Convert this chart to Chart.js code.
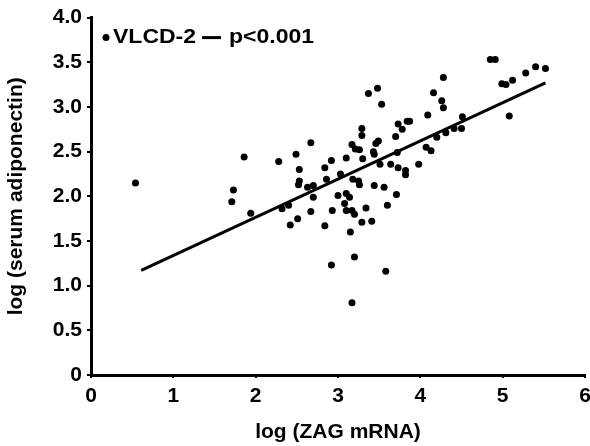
<!DOCTYPE html>
<html>
<head>
<meta charset="utf-8">
<script src="https://cdn.jsdelivr.net/npm/chart.js@4"></script>
<style>
  html, body { margin: 0; padding: 0; background: #fff; }
  canvas { display: block; }
</style>
</head>
<body>
<canvas id="myChart" width="590" height="446"></canvas>
<script>
// log (ZAG mRNA) vs log (serum adiponectin)
const zagValues = [0.54, 1.86, 1.73, 1.71, 1.94, 2.28, 2.49, 2.67, 2.53, 2.53,
  2.52, 2.63, 2.70, 2.84, 2.92, 2.86, 2.70, 2.32, 2.40, 2.67,
  2.93, 2.51, 3.00, 3.10, 3.14, 3.08, 3.10, 3.17, 3.20, 3.03,
  3.10, 3.17, 3.21, 3.26, 3.29, 3.29, 3.30, 3.18, 3.25, 3.26,
  3.34, 3.29, 3.41, 3.37, 3.48, 3.53, 3.43, 3.44, 3.46, 3.49,
  3.44, 3.56, 3.60, 3.51, 3.64, 3.72, 3.70, 3.73, 3.78, 3.84,
  3.87, 3.73, 3.82, 3.82, 3.71, 3.98, 4.07, 4.13, 4.09, 4.16,
  4.26, 4.28, 4.20, 4.85, 4.91, 4.99, 5.04, 5.12, 5.28, 5.40,
  5.52, 5.08, 4.28, 4.51, 4.50, 4.41, 4.31, 3.17, 2.92, 3.20,
  3.58, 3.15, 2.84, 2.42];
const adiponectinValues = [2.15, 2.44, 2.07, 1.94, 1.81, 2.39, 2.47, 2.60, 2.30, 2.17,
  2.13, 2.10, 2.12, 2.32, 2.40, 2.19, 1.99, 1.86, 1.90, 1.83,
  1.84, 1.75, 2.01, 2.03, 1.99, 1.92, 1.84, 1.84, 1.80, 2.25,
  2.43, 2.58, 2.53, 2.52, 2.76, 2.68, 2.42, 2.19, 2.17, 2.13,
  1.87, 1.71, 1.72, 3.15, 3.21, 3.03, 2.50, 2.47, 2.59, 2.62,
  2.12, 2.10, 1.90, 2.36, 2.36, 2.49, 2.67, 2.81, 2.75, 2.84,
  2.84, 2.32, 2.29, 2.24, 2.02, 2.36, 2.55, 2.51, 2.91, 3.16,
  3.07, 2.99, 2.66, 3.53, 3.53, 3.26, 3.25, 3.30, 3.38, 3.45,
  3.43, 2.90, 3.33, 2.89, 2.76, 2.76, 2.71, 0.81, 1.23, 1.32,
  1.16, 1.60, 1.67, 1.68];

// regression line ends
const fitX = [0.61, 5.52];
const fitY = [1.17, 3.27];

const xTicks = [0, 1, 2, 3, 4, 5, 6];
const yTicks = ['0', '0.5', '1.0', '1.5', '2.0', '2.5', '3.0', '3.5', '4.0'];

const seriesLabel = 'VLCD-2';
const fitLabel = 'p<0.001';

const FONT = '"Liberation Sans", Arial, sans-serif';

// legend text drawn inside the plot, top left (source font is a bit wide, so stretch it)
const insideLegend = {
  id: 'insideLegend',
  afterDraw(chart) {
    const { ctx, chartArea } = chart;
    const y = chartArea.top + 20;
    const x0 = chartArea.left + 15;
    const sx = 1.15;
    ctx.save();
    ctx.fillStyle = '#000';
    ctx.strokeStyle = '#000';
    ctx.beginPath();
    ctx.arc(x0, y, 3.5, 0, Math.PI * 2);
    ctx.fill();
    ctx.font = 'bold 20px ' + FONT;
    ctx.textBaseline = 'middle';
    ctx.textAlign = 'left';
    let x = x0 + 7;
    ctx.save();
    ctx.translate(x, y);
    ctx.scale(sx, 1);
    ctx.fillText(seriesLabel, 0, 0);
    ctx.restore();
    x += ctx.measureText(seriesLabel).width * sx + 6;
    ctx.lineWidth = 3;
    ctx.beginPath();
    ctx.moveTo(x, y);
    ctx.lineTo(x + 19, y);
    ctx.stroke();
    x += 27;
    ctx.translate(x, y);
    ctx.scale(sx, 1);
    ctx.fillText(fitLabel, 0, 0);
    ctx.restore();
  }
};

new Chart(document.getElementById('myChart'), {
  type: 'scatter',
  data: {
    datasets: [
      {
        label: seriesLabel,
        data: zagValues.map((v, i) => ({ x: v, y: adiponectinValues[i] })),
        backgroundColor: '#000',
        borderColor: '#000',
        pointRadius: 3.5,
        pointBorderWidth: 0,
      },
      {
        label: fitLabel,
        type: 'line',
        data: fitX.map((v, i) => ({ x: v, y: fitY[i] })),
        borderColor: '#000',
        borderWidth: 3,
        pointRadius: 0,
        fill: false,
      },
    ],
  },
  options: {
    responsive: false,
    animation: false,
    layout: { padding: { top: 16, right: 5, bottom: 0, left: 0 } },
    plugins: {
      legend: { display: false },
      tooltip: { enabled: false },
    },
    scales: {
      x: {
        type: 'linear',
        min: 0,
        max: 6,
        afterBuildTicks: (scale) => { scale.ticks = xTicks.map((v) => ({ value: v })); },
        afterFit: (scale) => {
          scale.height = 71;
          // let the last label run to the canvas edge like in the figure
          scale.paddingRight = 0;
          scale.paddingLeft = 0;
        },
        ticks: {
          color: '#000',
          font: { family: FONT, size: 21, weight: 'bold' },
          padding: 6,
          maxRotation: 0,
          callback: (v) => String(v),
        },
        grid: { drawOnChartArea: false, drawTicks: true, tickLength: 3, color: '#000', lineWidth: 2 },
        border: { display: true, color: '#000', width: 3 },
        title: {
          display: true,
          text: 'log (ZAG mRNA)',
          color: '#000',
          font: { family: FONT, size: 21, weight: 'bold' },
          padding: { top: 0, bottom: 1 },
        },
      },
      y: {
        type: 'linear',
        min: 0,
        max: 4,
        afterBuildTicks: (scale) => { scale.ticks = yTicks.map((t) => ({ value: parseFloat(t) })); },
        afterFit: (scale) => { scale.width = 91; },
        ticks: {
          color: '#000',
          font: { family: FONT, size: 21, weight: 'bold' },
          padding: 5,
          callback: (v) => yTicks.find((t) => parseFloat(t) === v),
        },
        grid: { drawOnChartArea: false, drawTicks: true, tickLength: 4, color: '#000', lineWidth: 2 },
        border: { display: true, color: '#000', width: 3 },
        title: {
          display: true,
          text: 'log (serum adiponectin)',
          color: '#000',
          font: { family: FONT, size: 21, weight: 'bold' },
          padding: { top: 4, bottom: 0 },
        },
      },
    },
  },
  plugins: [insideLegend],
});
</script>
</body>
</html>
